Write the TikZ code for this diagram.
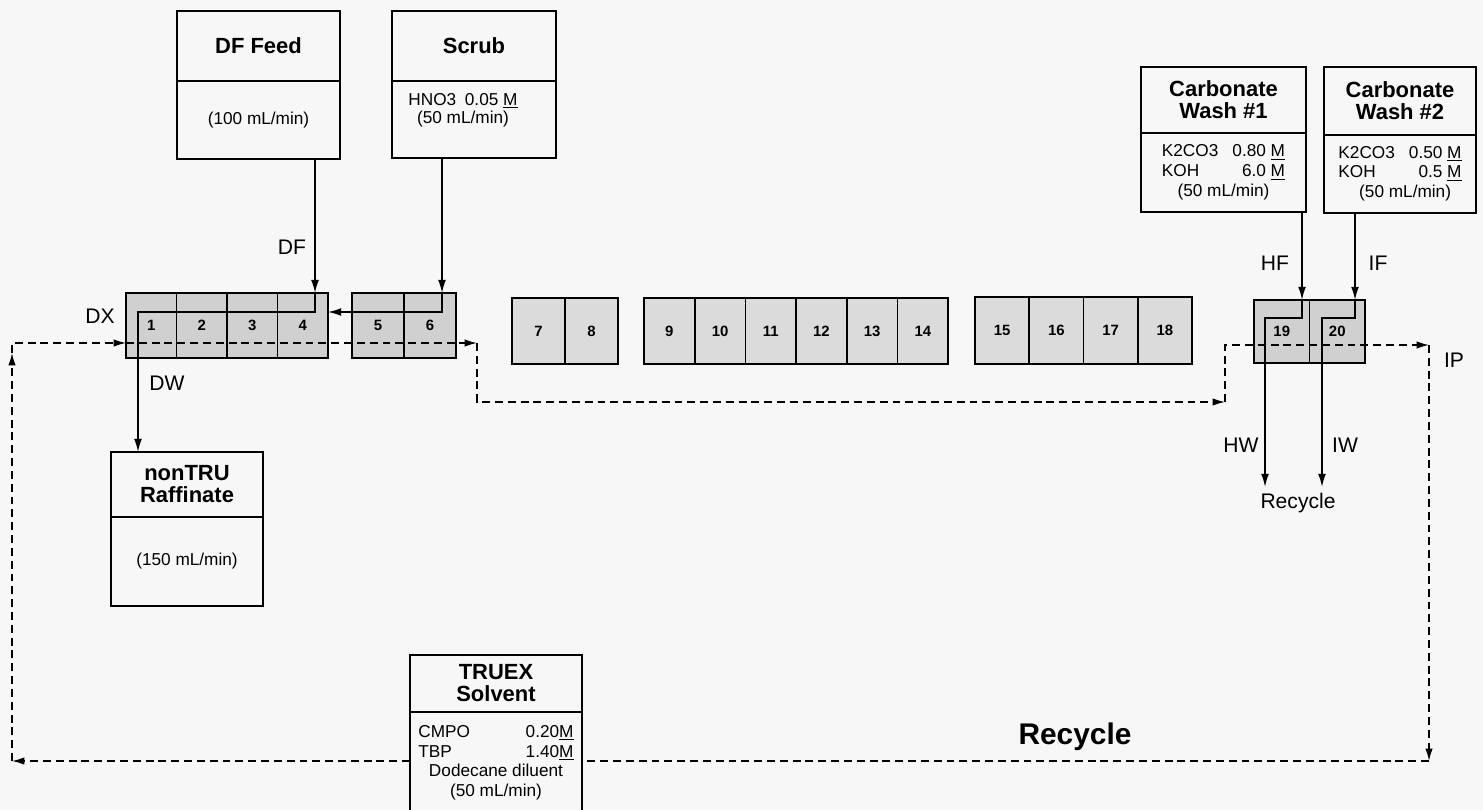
\documentclass[tikz,border=0pt]{standalone}
\usepackage{fontspec}
\setmainfont{Liberation Sans}
\usetikzlibrary{arrows.meta, positioning}
\definecolor{paper}{HTML}{F7F7F7}
\definecolor{stipple}{HTML}{D0D0D0}
\definecolor{stipplelight}{HTML}{DBDBDB}
\tikzset{
  headbox/.style={
    rectangle, draw=black, fill=paper, line width=1pt,
    inner sep=0pt, outer sep=0pt, align=center,
    font=\bfseries\fontsize{12.5}{12.5}\selectfont
  },
  bodybox/.style={
    rectangle, draw=black, fill=paper, line width=1pt,
    inner sep=0pt, outer sep=0pt, align=center,
    font=\fontsize{9.8}{11.3}\selectfont
  },
  bodytext/.style={align=center, inner sep=0pt, font=\fontsize{9.8}{11.3}\selectfont},
  stagecell/.style={
    rectangle, draw=black, fill=stipple, line width=0.9pt,
    inner sep=0pt, outer sep=0pt,
    font=\bfseries\fontsize{8.5}{9}\selectfont
  },
  flow/.style={-{Latex[length=7.5pt,width=4.5pt]}, line width=0.9pt},
  solvent/.style={line width=0.8pt, dash pattern=on 4.5pt off 2.8pt},
  solventarrow/.style={solvent, -{Latex[length=7pt,width=4.2pt]}},
  streamtag/.style={inner sep=1pt, font=\fontsize{12}{14}\selectfont},
}

\begin{document}
\begin{tikzpicture}[x=0.02cm, y=-0.02cm]
  \fill[paper] (0,0) rectangle (1483,810);
  \useasboundingbox (0,0) rectangle (1483,810);

  % feed and product boxes
  \node[headbox, minimum width=3.26cm, minimum height=1.4cm] (dfhead) at (258.5,46) {DF Feed};
  \node[bodybox, minimum width=3.26cm, minimum height=1.56cm, below=0pt of dfhead] (dfbody) {(100 mL/min)};

  \node[headbox, minimum width=3.28cm, minimum height=1.4cm] (scrubhead) at (474,46) {Scrub};
  \node[bodybox, minimum width=3.28cm, minimum height=1.54cm, below=0pt of scrubhead] (scrubbody) {};
  \node[bodytext] (scrubtext) at (463,110) {HNO3\enspace 0.05 \underline{M}\\[-1pt](50 mL/min)};

  \node[headbox, minimum width=3.3cm, minimum height=1.32cm] (cw1head) at (1223.5,100) {Carbonate\\Wash \#1};
  \node[bodybox, minimum width=3.3cm, minimum height=1.58cm, below=0pt of cw1head] (cw1body) {%
    \begin{tabular}{@{}l@{\hspace{8pt}}r@{}}
      K2CO3 & 0.80 \underline{M}\\
      KOH & 6.0 \underline{M}\\
      \multicolumn{2}{c}{(50 mL/min)}
    \end{tabular}};

  \node[headbox, minimum width=3.04cm, minimum height=1.36cm] (cw2head) at (1400,101) {Carbonate\\Wash \#2};
  \node[bodybox, minimum width=3.04cm, minimum height=1.56cm, below=0pt of cw2head] (cw2body) {%
    \begin{tabular}{@{}l@{\hspace{8pt}}r@{}}
      K2CO3 & 0.50 \underline{M}\\
      KOH & 0.5 \underline{M}\\
      \multicolumn{2}{r}{(50 mL/min)}
    \end{tabular}};

  \node[headbox, minimum width=3.04cm, minimum height=1.3cm] (rafhead) at (187,484.5) {nonTRU\\Raffinate};
  \node[bodybox, minimum width=3.04cm, minimum height=1.78cm, below=0pt of rafhead] (rafbody) {(150 mL/min)};

  \node[headbox, minimum width=3.44cm, minimum height=1.14cm] (truexhead) at (496,683.5) {TRUEX\\Solvent};
  \node[bodybox, minimum width=3.44cm, minimum height=2.04cm, below=0pt of truexhead] (truexbody) {%
    \begin{tabular}{@{}l@{\hspace{10pt}}r@{}}
      CMPO & 0.20\underline{M}\\
      TBP & 1.40\underline{M}\\
      \multicolumn{2}{c}{Dodecane diluent}\\
      \multicolumn{2}{c}{(50 mL/min)}
    \end{tabular}};

  % contactor stages
  \foreach \first/\last/\left/\w/\top/\h/\shade in {1/4/126/50.5/293/65/stipple, 5/6/352/52/293/65/stipple,
      7/8/512/53/298/66/stipplelight, 9/14/644/50.7/298/66/stipplelight,
      15/18/975/54.25/297/67/stipplelight, 19/20/1254/55.5/300/63/stipple}
    \foreach \n in {\first,...,\last}{
      \pgfmathsetmacro{\cx}{\left+(\n-\first+0.5)*\w}
      \pgfmathsetmacro{\cy}{\top+0.5*\h}
      \pgfmathsetmacro{\wcm}{0.02*\w}
      \pgfmathsetmacro{\hcm}{0.02*\h}
      \node[stagecell, fill=\shade, minimum width=\wcm cm, minimum height=\hcm cm] (s\n) at (\cx,\cy) {\n};
    }

  % aqueous streams
  \coordinate (dfin) at (315,293);
  \coordinate (dwturn) at (138,312);
  \coordinate (scin) at (442,293);
  \coordinate (hfin) at (1302,300);
  \coordinate (hwturn) at (1265,318);
  \coordinate (hwout) at (1265,487);
  \coordinate (ifin) at (1355,300);
  \coordinate (iwturn) at (1322,318);
  \coordinate (iwout) at (1322,487);

  \draw[flow] (dfbody.south -| dfin) -- (dfin);
  \draw[flow] (dfin) |- (dwturn) -- (rafhead.north -| dwturn);
  \draw[flow] (scrubbody.south -| scin) -- (scin);
  \draw[flow] (scin) |- (s4.east |- dwturn);
  \draw[flow] (cw1body.south -| hfin) -- (hfin);
  \draw[flow] (hfin) |- (hwturn) -- (hwout);
  \draw[flow] (cw2body.south -| ifin) -- (ifin);
  \draw[flow] (ifin) |- (iwturn) -- (iwout);

  % solvent loop
  \coordinate (dxin) at (126,343);
  \coordinate (loopa) at (477,343);
  \coordinate (loopb) at (1225,402);
  \coordinate (loopc) at (1429,345);
  \coordinate (loopd) at (1429,761);
  \coordinate (loope) at (12,761);
  \coordinate (loopf) at (12,353);

  \draw[solventarrow] (dxin) -- (loopa);
  \draw[solventarrow] (loopa) |- (loopb);
  \draw[solventarrow] (loopb) |- (loopc);
  \draw[solventarrow] (loopc) -- (loopd);
  \draw[solvent] (loopd) -- (truexbody.east |- loopd);
  \draw[solventarrow] (truexbody.west |- loopd) -- (loope);
  \draw[solventarrow] (loope) -- (loopf);
  \draw[solventarrow] (loopf) |- (dxin);

  % stream names
  \node[streamtag] (dxtag) at (100,316) {DX};
  \node[streamtag] (dwtag) at (167,383) {DW};
  \node[streamtag] (dftag) at (292,247) {DF};
  \node[streamtag] (hftag) at (1275,263) {HF};
  \node[streamtag] (iftag) at (1378,263) {IF};
  \node[streamtag] (iptag) at (1454,360) {IP};
  \node[streamtag] (hwtag) at (1241,445) {HW};
  \node[streamtag] (iwtag) at (1345,445) {IW};
  \node[streamtag] (recycletag) at (1298,503) {Recycle};
  \node[font=\bfseries\fontsize{17}{20}\selectfont] (recyclebig) at (1075,737) {Recycle};
\end{tikzpicture}
\end{document}
